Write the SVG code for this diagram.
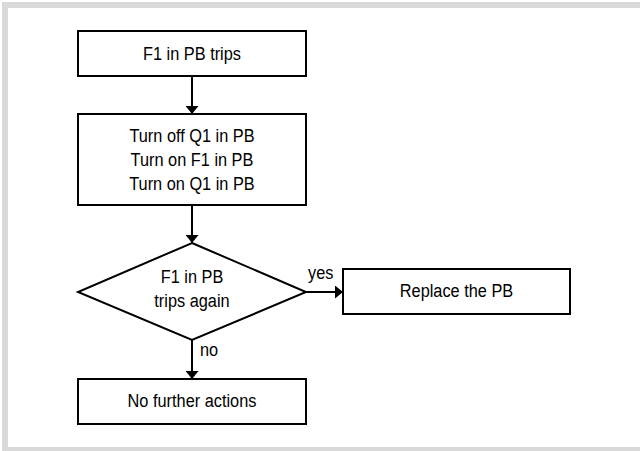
<svg xmlns="http://www.w3.org/2000/svg" width="640" height="451" viewBox="0 0 640 451">
<defs>
<style>
.box{fill:#fff;stroke:#000;stroke-width:2}
.t{font-family:"Liberation Sans",Arial,sans-serif;font-size:19px;fill:#000;text-anchor:middle}
.lbl{font-family:"Liberation Sans",Arial,sans-serif;font-size:19px;fill:#000}
.c{stroke:#000;stroke-width:2;fill:none}
</style>
<marker id="ah" viewBox="0 0 8 13" refX="8" refY="6.5" markerWidth="8" markerHeight="13" markerUnits="userSpaceOnUse" orient="auto">
<path d="M0,0 L8,6.5 L0,13 Z" fill="#000"/>
</marker>
</defs>
<rect width="640" height="451" fill="#fff"/>
<path d="M2,2 H640 V8 H8 V447 H640 V453 H2 Z" fill="#d9d9d9"/>
<g id="connectors">
<line class="c" x1="192" y1="76" x2="192" y2="114" marker-end="url(#ah)"/>
<line class="c" x1="192" y1="205" x2="192" y2="243" marker-end="url(#ah)"/>
<line class="c" x1="306" y1="292" x2="343" y2="292" marker-end="url(#ah)"/>
<line class="c" x1="192" y1="340" x2="192" y2="379" marker-end="url(#ah)"/>
<text class="lbl" transform="translate(308,279) scale(0.86,1)">yes</text>
<text class="lbl" transform="translate(200,356) scale(0.86,1)">no</text>
</g>
<g id="n1">
<rect class="box" x="78" y="31" width="228" height="45"/>
<text class="t" transform="translate(192,60) scale(0.86,1)">F1 in PB trips</text>
</g>
<g id="n2">
<rect class="box" x="78" y="114" width="228" height="91"/>
<text class="t" transform="translate(192,142) scale(0.86,1)">Turn off Q1 in PB</text>
<text class="t" transform="translate(192,166) scale(0.86,1)">Turn on F1 in PB</text>
<text class="t" transform="translate(192,190) scale(0.86,1)">Turn on Q1 in PB</text>
</g>
<g id="n3">
<polygon class="box" points="192,243 306,292 192,340 78,292"/>
<text class="t" transform="translate(192,283) scale(0.86,1)">F1 in PB</text>
<text class="t" transform="translate(192,307) scale(0.86,1)">trips again</text>
</g>
<g id="n4">
<rect class="box" x="343" y="269" width="227" height="45"/>
<text class="t" transform="translate(456.5,297) scale(0.86,1)">Replace the PB</text>
</g>
<g id="n5">
<rect class="box" x="78" y="379" width="228" height="45"/>
<text class="t" transform="translate(192,407) scale(0.86,1)">No further actions</text>
</g>
</svg>
